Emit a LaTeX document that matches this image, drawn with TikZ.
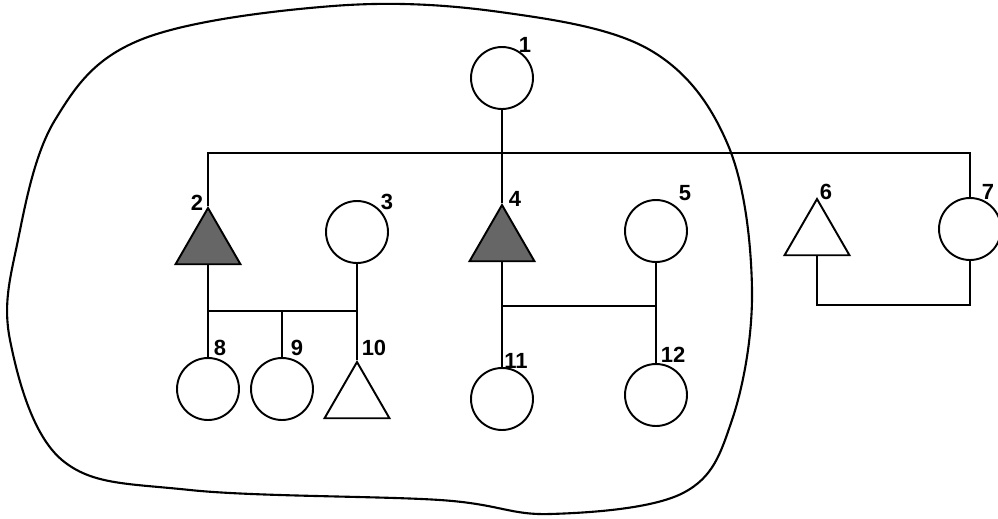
\documentclass[tikz,border=0pt]{standalone}
\usepackage{fontspec}
\setsansfont{Liberation Sans}
\usetikzlibrary{shapes.geometric}

\begin{document}
\begin{tikzpicture}[x=0.02cm, y=-0.02cm, line width=1.1pt,
  female/.style={circle, draw, minimum size=1.24cm, inner sep=0pt},
  male/.style={regular polygon, regular polygon sides=3, draw, minimum size=1.5cm, inner sep=0pt},
  affected/.style={male, fill=black!60},
  num/.style={font=\sffamily\bfseries\fontsize{12.5}{15}\selectfont, inner sep=0pt}]
\useasboundingbox (0,0) rectangle (998,518);

% boundary of the household
\draw[line width=1.2pt] plot[smooth cycle, tension=0.6] coordinates {
  (18,240) (55,120) (140,40) (333,6) (500,12) (650,50) (728,145)
  (752,290) (732,420) (683,493) (550,514) (440,500) (190,490)
  (62,460) (10,340)};

% first generation
\node[female] (c1) at (502,78) {};
\node[affected] (t2) at (208,245.5) {};
\node[female] (c3) at (357,232) {};
\node[affected] (t4) at (502,242.5) {};
\node[female] (c5) at (656,231) {};
\node[male] (t6) at (817,236.5) {};
\node[female] (c7) at (970,229) {};

% children
\node[female] (c8) at (208,389) {};
\node[female] (c9) at (282,389) {};
\node[male] (t10) at (357,399.5) {};
\node[female] (c11) at (502,399) {};
\node[female] (c12) at (656,395) {};

% numbers
\node[num] (n1) at (525,45) {1};
\node[num] (n2) at (197,203) {2};
\node[num] (n3) at (387,202) {3};
\node[num] (n4) at (515,199) {4};
\node[num] (n5) at (685,193) {5};
\node[num] (n6) at (826,192) {6};
\node[num] (n7) at (988,192) {7};
\node[num] (n8) at (220,348) {8};
\node[num] (n9) at (297,348) {9};
\node[num] (n10) at (374,348) {10};
\node[num] (n11) at (516,361) {11};
\node[num] (n12) at (673,355) {12};

% lines
\coordinate (top) at (0,153);
\coordinate (s23) at (0,311);
\coordinate (s45) at (0,306);
\coordinate (b67) at (0,305);
\draw (t2.corner 1) |- (top -| c7.north) -- (c7.north);
\draw (c1.south) -- (t4.corner 1);
\draw (t2.south) -- (c8.north);
\draw (c3.south) -- (t10.corner 1);
\draw (s23 -| t2.south) -- (s23 -| c3.south);
\draw (c9.north) -- (c9.north |- s23);
\draw (t4.south) -- (c11.north);
\draw (c5.south) -- (c12.north);
\draw (s45 -| t4.south) -- (s45 -| c5.south);
\draw (c7.south) |- (b67 -| t6.south) -- (t6.south);
\end{tikzpicture}
\end{document}
